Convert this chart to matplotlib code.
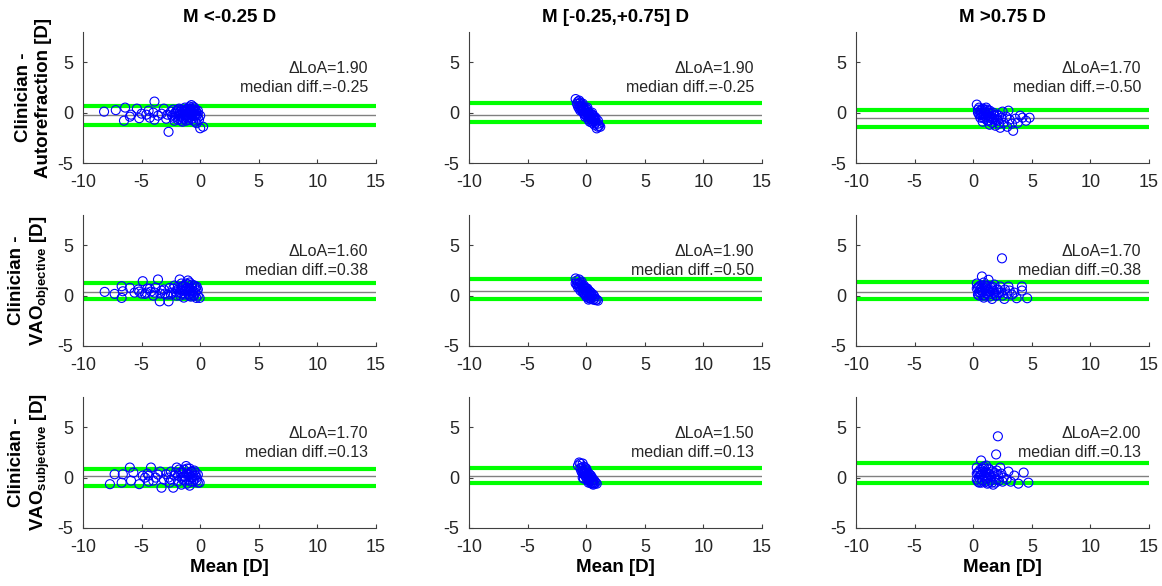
import numpy as np
import matplotlib
matplotlib.use("Agg")
import matplotlib.pyplot as plt

plt.rcParams['font.family'] = ['Liberation Sans', 'DejaVu Sans']
plt.rcParams['mathtext.fontset'] = 'custom'
plt.rcParams['mathtext.rm'] = 'Liberation Sans'
plt.rcParams['mathtext.bf'] = 'Liberation Sans:bold'
plt.rcParams['axes.unicode_minus'] = False

col_titles = ['M <-0.25 D', 'M [-0.25,+0.75] D', 'M >0.75 D']
row_labels = ['Clinician -\nAutorefraction [D]',
              'Clinician -\n' + r'VAO$_{\mathbf{objective}}$' + ' [D]',
              'Clinician -\n' + r'VAO$_{\mathbf{subjective}}$' + ' [D]']

# delta LoA / median diff / limits (upper, lower) per panel, row by row
dloa = [[1.90, 1.90, 1.70], [1.60, 1.90, 1.70], [1.70, 1.50, 2.00]]
med = [[-0.25, -0.25, -0.50], [0.38, 0.50, 0.38], [0.13, 0.13, 0.13]]
loa_up = [[0.65, 0.95, 0.30], [1.30, 1.60, 1.35], [0.90, 1.00, 1.45]]
loa_lo = [[-1.25, -0.95, -1.40], [-0.30, -0.30, -0.35], [-0.80, -0.50, -0.55]]

# Autorefraction
x11 = [-8.2, -7.2, -6.4, -6.5, -6.0, -5.9, -5.4, -5.2, -5.0, -4.6, -4.4, -4.3, -4.0, -3.9, -3.9,
       -3.6, -3.3, -3.1, -2.9, -2.7, -2.8, -2.5, -2.3, -2.2, -2.0, -1.9, -1.8, -1.7, -1.6, -1.5,
       -1.4, -1.3, -1.2, -1.1, -1.0, -0.9, -0.8, -0.75, -0.7, -0.6, -0.5, -0.4, -0.35, -0.3, -0.2,
       0.0, 0.25, -1.8, -1.5, -1.2, -1.0, -0.8, -0.6, -0.5, -0.4, -2.1, -1.6, -1.1, -0.9, -0.7,
       -2.4, -2.3, -2.1, -1.9, -1.8, -1.7, -1.5, -1.4, -1.3, -1.2, -1.1, -1.0, -0.9, -0.8,
       -0.7, -0.6, -0.5, -0.4, -0.3, -0.2, -0.1, 0.0, -0.2, -1.6, -2.2, -0.6, -1.0]
y11 = [0.1, 0.25, 0.5, -0.8, -0.4, -0.2, 0.4, -0.55, -0.1, -0.2, 0.2, -0.5, 0.0, 1.1, -0.7,
       -0.3, -0.1, 0.4, -0.6, -1.9, -0.2, 0.1, -0.5, -0.1, 0.2, -0.7, -0.3, 0.1, 0.3, -0.5,
       -0.2, 0.5, -0.8, 0.0, -0.4, 0.6, -0.1, 0.75, -0.6, 0.3, -0.3, -0.9, 0.1, -1.05, -0.5,
       -1.55, -1.4, 0.4, -0.9, 0.3, -0.7, 0.4, -0.8, 0.5, -0.2, -0.4, -0.1, -0.5, 0.2, -0.3,
       -0.3, 0.3, 0.0, 0.3, -0.6, -0.3, 0.1, -0.6, 0.2, -0.3, 0.4, -0.1, -0.5, 0.1,
       0.2, -0.1, 0.1, 0.3, -0.3, -0.1, -0.7, -0.3, 0.2, -0.8, -0.8, 0.6, 0.4]
x12 = [-0.9, -0.7, -0.8, -0.6, -0.5, -0.5, -0.4, -0.3, -0.3, -0.2, -0.2, -0.1, 0.0, 0.0, 0.1,
       0.1, 0.2, 0.2, 0.3, 0.3, 0.4, 0.5, 0.5, 0.6, 0.6, 0.7, 0.8, 0.8, 0.9, 1.0, 1.1, 1.2,
       -0.6, -0.4, 0.0, 0.4, -0.1, 0.3, 0.7, -0.7,
       -0.6, -0.4, -0.2, 0.0, 0.2, 0.4, 0.6, 0.8, 1.0, -0.5, -0.1, 0.3, 0.7, 0.5, 1.0, -0.3,
       0.1, 0.5, -0.6, 0.2]
y12 = [1.35, 1.1, 0.9, 0.7, 1.0, 0.5, 0.3, 0.6, 0.1, 0.4, -0.1, 0.2, 0.0, -0.3, 0.3,
       -0.2, -0.4, 0.0, -0.2, -0.6, -0.4, -0.7, -0.2, -0.5, -0.9, -0.7, -1.0, -0.5, -1.56, -1.1, -1.3, -1.4,
       1.2, 0.8, 0.4, -0.1, -0.4, -0.9, -1.2, 0.6,
       0.9, 0.6, 0.3, 0.2, -0.1, -0.6, -0.3, -0.8, -0.8, 0.2, -0.2, -0.4, -0.4, -1.0, -1.4, 0.9,
       0.5, 0.0, 0.4, -0.7]
x13 = [0.3, 0.5, 0.6, 0.7, 0.8, 0.9, 1.0, 1.0, 1.1, 1.2, 1.3, 1.4, 1.5, 1.6, 1.7, 1.8, 1.9, 2.0,
       2.1, 2.3, 2.4, 2.5, 2.6, 2.8, 2.9, 3.0, 3.1, 3.3, 3.4, 3.6, 3.8, 4.0, 4.2, 4.5, 4.8,
       0.4, 0.6, 0.8, 1.2, 1.4, 1.7, 2.2,
       0.4, 0.5, 0.7, 0.8, 0.9, 1.1, 1.2, 1.3, 1.5, 1.6, 1.8, 2.0, 2.2, 0.6, 1.0, 1.4]
y13 = [0.8, 0.5, 0.2, -0.1, 0.4, -0.3, 0.1, -0.6, 0.5, -0.2, -0.8, 0.2, -0.4, -1.0, 0.0, -0.6, -1.3, -0.2,
       -0.8, -1.5, -0.5, 0.1, -1.0, -0.4, -1.4, 0.2, -0.7, -1.1, -1.8, -0.6, -1.0, -0.3, -0.5, -0.8, -0.5,
       0.0, -0.5, -0.9, 0.3, -1.2, -0.7, -1.1,
       0.3, -0.2, 0.3, -0.5, 0.0, -0.4, -0.8, 0.0, -0.1, -0.6, -0.3, -0.7, -0.3, -0.2, 0.3, -0.5]

# VAO objective
x21 = [-8.15, -7.3, -6.7, -6.7, -6.6, -6.0, -5.6, -5.3, -5.0, -4.9, -4.7, -4.5, -4.2, -4.0, -3.8,
       -3.6, -3.45, -3.3, -3.0, -2.7, -2.6, -2.4, -2.2, -2.0, -1.9, -1.75, -1.6, -1.5, -1.4, -1.3,
       -1.2, -1.05, -1.0, -0.9, -0.8, -0.7, -0.6, -0.5, -0.4, -0.33, -0.3, -0.05, -1.8, -1.1, -0.7,
       -2.3, -1.6, -0.9,
       -2.5, -2.1, -1.9, -1.7, -1.5, -1.4, -1.3, -1.1, -1.0, -0.9, -0.8, -0.7, -0.6, -0.5,
       -0.4, -0.3, -0.2, -0.2, -1.2, -1.7, -5.2, -4.6, -4.3, -3.9, -3.4, -3.1, -2.8]
y21 = [0.37, 0.17, -0.23, 0.93, 0.43, 0.77, 0.3, 0.6, 0.2, 1.43, 0.17, 0.7, 0.4, 0.0, 0.8,
       1.6, -0.57, 0.5, 0.2, -0.57, 0.77, 0.3, 1.0, 0.0, 0.6, 1.6, 0.2, 0.9, -0.2, 0.5,
       1.2, 1.5, 0.1, 0.7, -0.1, 1.1, 0.4, 0.0, 0.8, -0.23, 0.5, -0.23, 0.3, 0.8, 0.3,
       0.7, 1.2, 1.3,
       0.1, 0.4, 0.9, 0.0, 0.5, 1.0, 0.1, 0.4, 1.1, 0.0, 0.5, 0.8, 0.0, 1.0,
       0.3, 0.9, 0.0, 0.6, 0.7, 0.6, 0.4, 0.3, 0.7, 0.3, 0.2, 0.6, 0.1]
x22 = [-0.9, -0.8, -0.7, -0.6, -0.6, -0.5, -0.4, -0.4, -0.3, -0.3, -0.2, -0.2, -0.1, -0.1, 0.0,
       0.0, 0.1, 0.1, 0.2, 0.2, 0.3, 0.3, 0.4, 0.5, 0.6, 0.7, 0.8, -0.7, -0.5, 0.0, 0.3, -0.8,
       -0.9, -0.6, -0.4, -0.3, -0.1, 0.1, 0.2, 0.4, 0.5, 0.6, 0.7, 0.9, 1.0, -0.2, 0.0, 0.4,
       -0.5, 0.2]
y22 = [1.7, 1.5, 1.2, 1.6, 0.9, 1.3, 0.7, 1.1, 0.5, 0.9, 0.3, 0.7, 0.5, 0.1, 0.3,
       -0.1, 0.4, 0.0, -0.2, 0.2, 0.0, -0.3, 0.1, -0.2, -0.4, -0.3, -0.45, 0.8, 0.5, 0.7, 0.4, 1.1,
       1.2, 1.2, 1.4, 0.3, 0.8, 0.7, 0.5, 0.3, 0.0, 0.1, -0.1, -0.4, -0.5, 1.0, 0.5, -0.3,
       0.8, -0.4]
x23 = [2.45, 0.74, 1.3, 4.15, 4.15, 4.6, 3.7, 2.65, 1.6, 3.0, 0.3, 0.4, 0.5, 0.6, 0.7, 0.8,
       0.9, 1.0, 1.1, 1.2, 1.3, 1.4, 1.5, 1.7, 1.8, 1.9, 2.0, 2.2, 2.3, 2.5, 2.7, 2.9, 3.1,
       3.3, 3.5, 0.4, 0.6, 0.9, 1.1, 1.6,
       0.3, 0.5, 0.5, 0.7, 0.8, 1.0, 1.0, 1.2, 1.4, 1.6, 1.8, 2.0, 2.1, 2.4, 0.6, 1.3]
y23 = [3.7, 1.9, 1.57, 0.9, 0.5, -0.26, -0.26, -0.33, -0.33, 0.9, 1.2, 0.8, 0.3, 1.0, 0.5, 0.0,
       1.3, 0.7, 0.2, 1.0, 0.4, -0.1, 0.8, 0.3, 1.1, 0.0, 0.6, 0.3, 0.9, 0.0, 0.6, 0.2, 0.5,
       0.1, 0.3, 0.1, 0.6, -0.2, 0.9, 0.5,
       0.7, 0.9, 0.0, 0.8, 0.4, 1.0, 0.0, 0.6, 0.4, 0.9, 0.2, 0.0, 0.6, 0.3, 0.3, 0.1]

# VAO subjective
x31 = [-7.7, -7.3, -6.6, -6.0, -6.7, -5.7, -5.2, -4.9, -4.5, -4.2, -4.7, -4.0, -3.6, -3.3, -3.1,
       -2.9, -2.6, -2.3, -2.0, -2.2, -1.9, -1.7, -1.5, -1.4, -1.2, -1.1, -1.0, -0.9, -0.8, -0.7,
       -0.6, -0.5, -0.4, -0.3, -0.05, -1.6, -1.3, -0.9, -2.5, -5.9, -4.4,
       -2.5, -2.1, -1.9, -1.8, -1.6, -1.5, -1.3, -1.2, -1.1, -1.0, -0.9, -0.8, -0.7, -0.6,
       -0.5, -0.4, -0.3, -0.2, -0.2, -1.4, -4.4, -3.8, -3.4, -2.7]
y31 = [-0.65, 0.33, 0.33, 1.0, -0.5, 0.5, -0.65, 0.2, 0.4, 1.0, 0.0, -0.3, 0.3, -1.0, -0.2,
       0.33, -0.5, -1.0, 1.0, 0.2, -0.4, 0.5, -0.2, 0.8, 1.15, -0.6, 0.3, -0.8, 0.6, 0.0,
       -0.4, 0.7, 0.2, -0.3, -0.5, -0.7, 0.1, 0.9, 0.6, -0.3, -0.4,
       -0.2, 0.5, 0.2, 0.8, 0.0, 0.5, -0.3, 0.4, 0.9, -0.2, 0.3, -0.4, 0.6, 0.2,
       -0.2, 0.5, 0.0, 0.3, -0.5, 0.1, 0.2, 0.0, 0.6, 0.0]
x32 = [-0.5, -0.3, -0.4, -0.3, -0.2, -0.2, -0.1, -0.1, 0.0, 0.0, 0.1, 0.1, 0.2, 0.2, 0.3,
       0.3, 0.4, 0.5, 0.6, 0.7, 0.4, -0.4, 0.0, 0.3,
       -0.7, -0.6, -0.5, -0.3, -0.1, 0.1, 0.2, 0.4, 0.5, 0.6, 0.7, 0.8, 0.9, 0.5, 0.2, -0.2,
       0.0, -0.3, 0.3, -0.1, 0.6]
y32 = [1.4, 1.4, 1.0, 0.7, 1.1, 0.4, 0.8, 0.2, 0.5, 0.0, 0.3, -0.2, 0.1, -0.3, -0.1,
       -0.4, 0.0, -0.3, -0.5, -0.6, -0.55, 0.6, 0.9, 0.3,
       1.2, 1.5, 0.9, 0.4, 0.5, 0.6, 0.4, 0.2, 0.0, -0.2, -0.3, -0.5, -0.6, -0.6, -0.5, -0.1,
       0.2, 0.0, -0.2, 1.0, -0.7]
x33 = [2.1, 1.95, 0.67, 4.3, 4.7, 3.85, 2.85, 0.3, 0.4, 0.5, 0.5, 0.6, 0.7, 0.8, 0.9, 1.0,
       1.1, 1.2, 1.3, 1.4, 1.5, 1.6, 1.7, 1.8, 2.0, 2.2, 2.4, 2.6, 3.0, 3.2, 3.5, 0.3, 0.8,
       1.1, 1.3, 1.9, 2.3,
       0.3, 0.4, 0.6, 0.7, 0.8, 0.9, 1.0, 1.1, 1.2, 1.4, 1.5, 1.6, 1.8, 2.0, 2.1, 2.5, 0.5, 1.3]
y33 = [4.1, 2.3, 1.7, 0.5, -0.5, -0.6, -0.15, 1.0, 0.5, 0.0, -0.5, 0.8, 0.3, -0.3, 1.1, 0.5,
       -0.1, -0.6, 0.9, 0.3, -0.3, 0.6, -0.7, 0.1, 0.7, -0.3, 0.4, 0.0, 0.6, -0.4, 0.2, -0.2, 0.6,
       1.2, -0.5, -0.5, 1.0,
       0.4, -0.4, 0.2, -0.5, 0.9, 0.2, -0.4, 0.6, 0.1, 0.8, 0.1, -0.5, 0.5, -0.2, 0.3, -0.4, 0.6, 0.4]

xs = [[x11, x12, x13], [x21, x22, x23], [x31, x32, x33]]
ys = [[y11, y12, y13], [y21, y22, y23], [y31, y32, y33]]

fig = plt.figure(figsize=(11.62, 5.86), dpi=100)
lefts = [0.0714, 0.4036, 0.7367]
bottoms = [0.7218, 0.4096, 0.0990]
w, h = 0.2522, 0.2235
axc = '#404040'

for r in range(3):
    for c in range(3):
        ax = fig.add_axes([lefts[c], bottoms[r], w, h])
        ax.axhline(loa_up[r][c], color=(0, 1, 0), lw=3, zorder=2)
        ax.axhline(loa_lo[r][c], color=(0, 1, 0), lw=3, zorder=2)
        ax.axhline(med[r][c], color='#808080', lw=1, zorder=2)
        ax.scatter(xs[r][c], ys[r][c], s=42, facecolors='none', edgecolors=(0, 0, 1),
                   linewidths=0.8, zorder=3)
        ax.set_xlim(-10, 15)
        ax.set_ylim(-5, 8)
        ax.set_xticks([-10, -5, 0, 5, 10, 15])
        ax.set_yticks([-5, 0, 5])
        ax.spines['top'].set_visible(False)
        ax.spines['right'].set_visible(False)
        for s in ['left', 'bottom']:
            ax.spines[s].set_color(axc)
            ax.spines[s].set_linewidth(0.8)
        ax.tick_params(direction='in', length=3, width=0.8, color=axc,
                       labelsize=13, labelcolor='#262626')
        ax.tick_params(axis='x', pad=8)
        ax.tick_params(axis='y', pad=7)
        ax.text(14.3, 4.35, '\u0394LoA=%.2f' % dloa[r][c], ha='right', va='center',
                fontsize=11.5, color='#262626')
        ax.text(14.3, 2.45, 'median diff.=%.2f' % med[r][c], ha='right', va='center',
                fontsize=11.5, color='#262626')
        if r == 0:
            ax.set_title(col_titles[c], fontsize=13.5, fontweight='bold', pad=7)
        if c == 0:
            ax.set_ylabel(row_labels[r], fontsize=13.5, fontweight='bold', labelpad=4)
        if r == 2:
            ax.set_xlabel('Mean [D]', fontsize=13.5, fontweight='bold', labelpad=2)

fig.savefig('out.png', dpi=100)
